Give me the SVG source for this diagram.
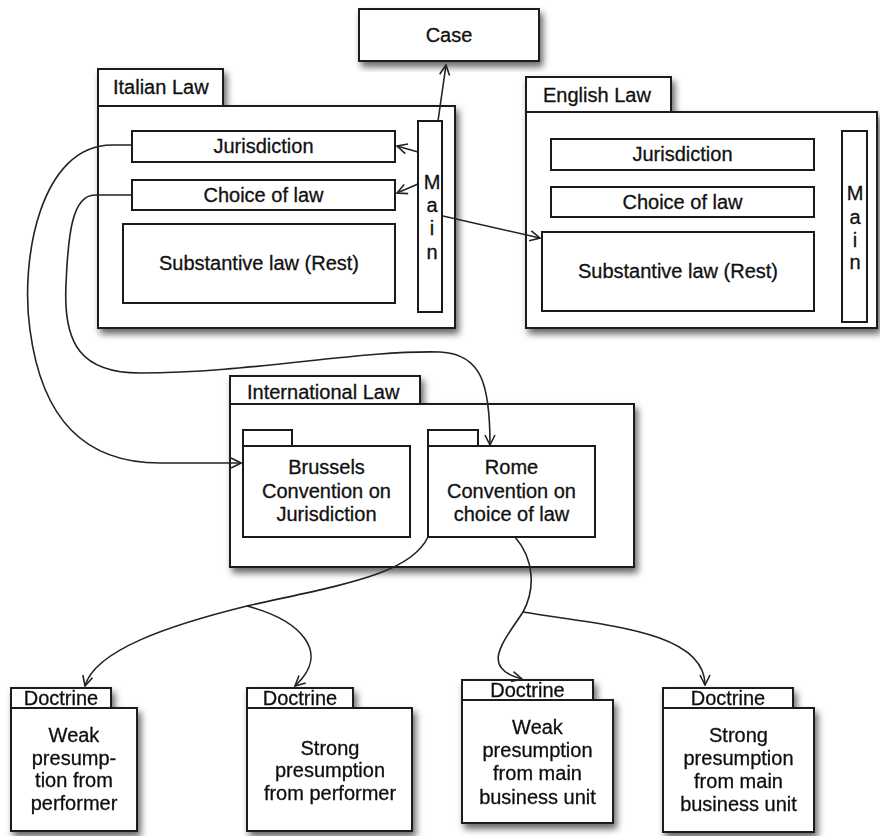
<svg xmlns="http://www.w3.org/2000/svg" width="880" height="836" viewBox="0 0 880 836">
<style>
.b{fill:#fff;stroke:#1a1a1a;stroke-width:2}
.s{filter:url(#sh)}
.t{font-family:"Liberation Sans",Arial,sans-serif;font-size:20px;fill:#111;stroke:#111;stroke-width:0.3}
.c{text-anchor:middle}
.e{fill:none;stroke:#222;stroke-width:1.6}
</style>
<defs>
<filter id="sh" x="-10%" y="-10%" width="130%" height="130%">
<feDropShadow dx="3" dy="5" stdDeviation="3.5" flood-color="#000" flood-opacity="0.6"/>
</filter>
<marker id="ar" viewBox="0 0 12 12" refX="11" refY="6" markerWidth="12" markerHeight="12" markerUnits="userSpaceOnUse" orient="auto">
<path d="M1,1 L11,6 L1,11" fill="none" stroke="#222" stroke-width="1.6"/>
</marker>
</defs>
<rect width="880" height="836" fill="#fff"/>

<g id="case">
<rect class="b s" x="359" y="9" width="180" height="52"/>
<text class="t c" x="449" y="42">Case</text>
</g>

<g id="italian-law">
<g class="s">
<rect class="b" x="98" y="69" width="125" height="37"/>
<rect class="b" x="98" y="106" width="357" height="222"/>
</g>
<text class="t" x="113" y="94">Italian Law</text>
<g id="it-jurisdiction"><rect class="b" x="132" y="131" width="263" height="31"/><text class="t c" x="263.5" y="153">Jurisdiction</text></g>
<g id="it-choice"><rect class="b" x="132" y="180" width="263" height="30"/><text class="t c" x="263.5" y="202">Choice of law</text></g>
<g id="it-substantive"><rect class="b" x="123" y="224" width="272" height="79"/><text class="t c" x="259" y="270">Substantive law (Rest)</text></g>
<g id="it-main"><rect class="b" x="418" y="121" width="24" height="191"/>
<text class="t c" x="432" y="189">M</text><text class="t c" x="432" y="212">a</text><text class="t c" x="432" y="235">i</text><text class="t c" x="432" y="259">n</text></g>
</g>

<g id="english-law">
<g class="s">
<rect class="b" x="526" y="77" width="145" height="35"/>
<rect class="b" x="526" y="112" width="351" height="216"/>
</g>
<text class="t" x="543" y="102">English Law</text>
<g id="en-jurisdiction"><rect class="b" x="551" y="139" width="263" height="31"/><text class="t c" x="682.5" y="161">Jurisdiction</text></g>
<g id="en-choice"><rect class="b" x="551" y="187" width="263" height="30"/><text class="t c" x="682.5" y="209">Choice of law</text></g>
<g id="en-substantive"><rect class="b" x="542" y="232" width="272" height="79"/><text class="t c" x="678" y="278">Substantive law (Rest)</text></g>
<g id="en-main"><rect class="b" x="842" y="131" width="25" height="191"/>
<text class="t c" x="855" y="200">M</text><text class="t c" x="855" y="224">a</text><text class="t c" x="855" y="247">i</text><text class="t c" x="855" y="269">n</text></g>
</g>

<g id="international-law">
<g class="s">
<rect class="b" x="230" y="376" width="190" height="28"/>
<rect class="b" x="230" y="404" width="404" height="163"/>
</g>
<text class="t" x="247" y="399">International Law</text>
<g id="brussels">
<rect class="b" x="243" y="430" width="49" height="16"/>
<rect class="b" x="243" y="446" width="167" height="91"/>
<text class="t c" x="326.5" y="474">Brussels</text>
<text class="t c" x="326.5" y="498">Convention on</text>
<text class="t c" x="326.5" y="521">Jurisdiction</text>
</g>
<g id="rome">
<rect class="b" x="428" y="430" width="50" height="16"/>
<rect class="b" x="428" y="446" width="167" height="91"/>
<text class="t c" x="511.5" y="474">Rome</text>
<text class="t c" x="511.5" y="498">Convention on</text>
<text class="t c" x="511.5" y="521">choice of law</text>
</g>
</g>

<g id="doctrine-1" class="s">
<rect class="b" x="11" y="688" width="100" height="20"/>
<rect class="b" x="11" y="708" width="126" height="123"/>
<text class="t c" x="61" y="705">Doctrine</text>
<text class="t c" x="74" y="742">Weak</text>
<text class="t c" x="74" y="765">presump-</text>
<text class="t c" x="74" y="787">tion from</text>
<text class="t c" x="74" y="810">performer</text>
</g>

<g id="doctrine-2" class="s">
<rect class="b" x="247" y="688" width="106" height="20"/>
<rect class="b" x="247" y="708" width="165" height="123"/>
<text class="t c" x="300" y="705">Doctrine</text>
<text class="t c" x="330" y="755">Strong</text>
<text class="t c" x="330" y="777">presumption</text>
<text class="t c" x="330" y="800">from performer</text>
</g>

<g id="doctrine-3" class="s">
<rect class="b" x="462" y="680" width="131" height="20"/>
<rect class="b" x="462" y="700" width="151" height="123"/>
<text class="t c" x="527.5" y="697">Doctrine</text>
<text class="t c" x="537.5" y="734">Weak</text>
<text class="t c" x="537.5" y="757">presumption</text>
<text class="t c" x="537.5" y="780">from main</text>
<text class="t c" x="537.5" y="804">business unit</text>
</g>

<g id="doctrine-4" class="s">
<rect class="b" x="663" y="688" width="130" height="20"/>
<rect class="b" x="663" y="708" width="151" height="124"/>
<text class="t c" x="728" y="705">Doctrine</text>
<text class="t c" x="738.5" y="742">Strong</text>
<text class="t c" x="738.5" y="765">presumption</text>
<text class="t c" x="738.5" y="788">from main</text>
<text class="t c" x="738.5" y="811">business unit</text>
</g>

<g id="connectors">
<path class="e" marker-end="url(#ar)" d="M438,121 L446,65"/>
<path class="e" marker-end="url(#ar)" d="M418,152 L397,146"/>
<path class="e" marker-end="url(#ar)" d="M418,184 L397,193"/>
<path class="e" marker-end="url(#ar)" d="M443,216 L540,238"/>
<path class="e" marker-end="url(#ar)" d="M132,145 L112,145 C40,145 20,260 30,330 C42,420 85,463 160,463 L241,463"/>
<path class="e" marker-end="url(#ar)" d="M132,195 L95,195 C72,195 68,235 66,285 C63,345 82,373 140,373 C250,373 360,350 440,352 C482,354 490,385 490,445"/>
<path class="e" marker-end="url(#ar)" d="M428,537 C410,575 340,585 247,606 C170,625 95,650 85,686"/>
<path class="e" marker-end="url(#ar)" d="M247,606 C300,620 332,652 295,686"/>
<path class="e" marker-end="url(#ar)" d="M515,537 C535,560 535,590 523,612 C505,640 478,668 522,679"/>
<path class="e" marker-end="url(#ar)" d="M523,612 C600,625 705,630 705,685"/>
</g>
</svg>
